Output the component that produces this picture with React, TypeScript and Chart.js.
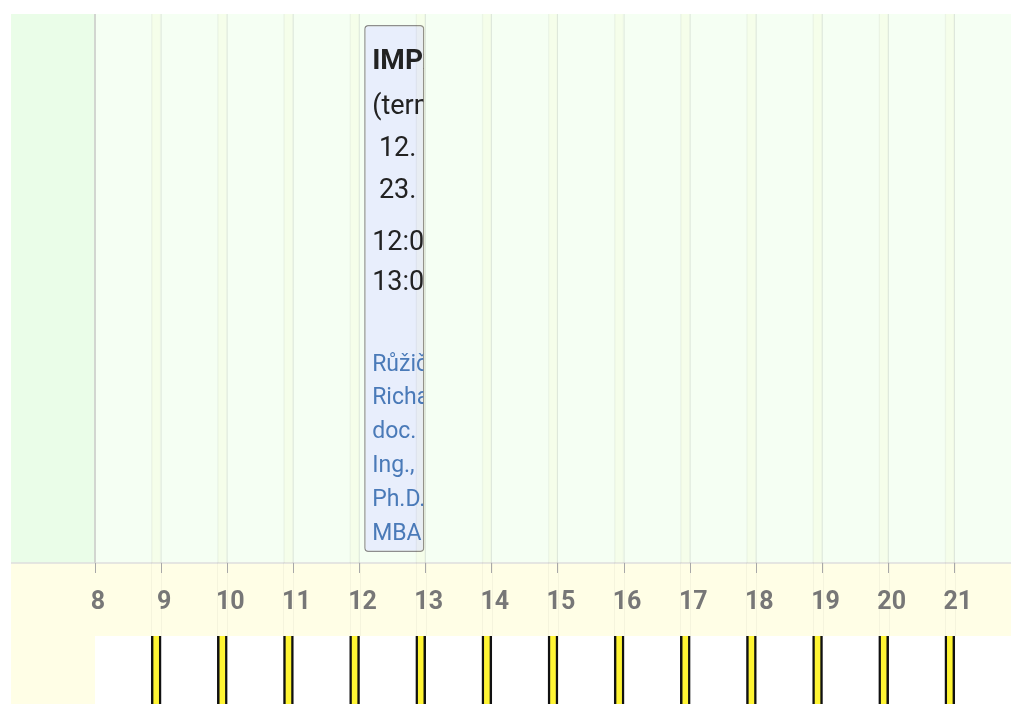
import React, { useEffect, useRef } from "react";
import { Chart, registerables } from "chart.js";

Chart.register(...registerables);

// ---- data ----
const rowLabels = ["Učebna"];
const hourTicks = [8, 9, 10, 11, 12, 13, 14, 15, 16, 17, 18, 19, 20, 21];
const breakStarts = [8.85, 9.85, 10.85, 11.85, 12.85, 13.85, 14.85, 15.85, 16.85, 17.85, 18.85, 19.85, 20.85];
const breakEnds = [9, 10, 11, 12, 13, 14, 15, 16, 17, 18, 19, 20, 21];
const eventStart = 12.07;
const eventEnd = 12.98;
const eventHeaderLines = ["IMPxx", "(termín)", " 12. 02.", " 23. 02.", "12:00", "13:00"];
const eventTeacherLines = ["Růžička", "Richard,", "doc.", "Ing.,", "Ph.D.,", "MBA"];
const axisMin = 8;
const axisMax = 21.85;

const W = 1011;
const TOP_H = 636;
const BOTTOM_H = 68;

const breakData = () => breakStarts.map((s, i) => ({ x: [s, breakEnds[i]], y: rowLabels[0] }));

const topBackground = {
  id: "topBackground",
  beforeDraw(chart: any) {
    const { ctx, chartArea } = chart;
    ctx.save();
    ctx.fillStyle = "#ffffff";
    ctx.fillRect(0, 0, chart.width, chart.height);
    ctx.fillStyle = "#eafde8";
    ctx.fillRect(11, chartArea.top, chartArea.left - 11, chartArea.bottom - chartArea.top);
    ctx.fillStyle = "#f5fff3";
    ctx.fillRect(chartArea.left, chartArea.top, chartArea.right - chartArea.left, chartArea.bottom - chartArea.top);
    ctx.fillStyle = "#fffee6";
    ctx.fillRect(11, chartArea.bottom, chart.width - 11, chart.height - chartArea.bottom);
    ctx.strokeStyle = "#dedede";
    ctx.lineWidth = 1.5;
    ctx.beginPath();
    ctx.moveTo(11, chartArea.bottom);
    ctx.lineTo(chart.width, chartArea.bottom);
    ctx.stroke();
    const xs = chart.scales.x;
    ctx.strokeStyle = "rgba(0,0,0,0.04)";
    ctx.lineWidth = 1;
    breakStarts.forEach((s, i) => {
      [s, breakEnds[i]].forEach((v) => {
        const px = Math.round(xs.getPixelForValue(v)) + 0.5;
        ctx.beginPath();
        ctx.moveTo(px, chartArea.bottom);
        ctx.lineTo(px, chart.height);
        ctx.stroke();
      });
    });
    ctx.restore();
  },
  afterDraw(chart: any) {
    const { ctx, chartArea } = chart;
    ctx.save();
    ctx.strokeStyle = "#d2d6d0";
    ctx.lineWidth = 2;
    ctx.beginPath();
    ctx.moveTo(chartArea.left, chartArea.top);
    ctx.lineTo(chartArea.left, chartArea.bottom);
    ctx.stroke();
    ctx.restore();
  },
  afterDatasetsDraw(chart: any) {
    const { ctx } = chart;
    const meta = chart.getDatasetMeta(1);
    const el = meta.data[0];
    if (!el) return;
    const p = el.getProps(["x", "y", "base", "height"], true);
    const left = Math.min(p.x, p.base);
    const right = Math.max(p.x, p.base);
    const top = p.y - p.height / 2;
    ctx.save();
    ctx.beginPath();
    ctx.rect(left + 1, top + 1, right - left - 2, p.height - 2);
    ctx.clip();
    ctx.textBaseline = "middle";
    ctx.textAlign = "left";
    const headerOffsets = [37, 82, 124, 166, 218, 258];
    eventHeaderLines.forEach((line, i) => {
      ctx.font = i === 0 ? "bold 28px Roboto" : "27px Roboto";
      ctx.fillStyle = "#222222";
      ctx.fillText(line, left + 8, top + headerOffsets[i]);
    });
    const teacherOffsets = [340, 373, 407, 441, 475, 509];
    ctx.font = "23px Roboto";
    ctx.fillStyle = "#4a7ab8";
    eventTeacherLines.forEach((line, i) => {
      ctx.fillText(line, left + 8, top + teacherOffsets[i]);
    });
    ctx.restore();
  },
};

const bottomBackground = {
  id: "bottomBackground",
  beforeDraw(chart: any) {
    const { ctx, chartArea } = chart;
    ctx.save();
    ctx.fillStyle = "#ffffff";
    ctx.fillRect(0, 0, chart.width, chart.height);
    ctx.fillStyle = "#fffee6";
    ctx.fillRect(11, 0, chartArea.left - 11, chart.height);
    ctx.restore();
  },
};

function setTicks(scale: any) {
  scale.ticks = hourTicks.map((v) => ({ value: v }));
}

export default function App() {
  const topRef = useRef<HTMLCanvasElement>(null);
  const bottomRef = useRef<HTMLCanvasElement>(null);

  useEffect(() => {
    const top = new Chart(topRef.current as HTMLCanvasElement, {
      type: "bar",
      data: {
        labels: rowLabels,
        datasets: [
          {
            label: "breaks",
            data: breakData() as any,
            backgroundColor: "rgba(255,235,0,0.035)",
            borderColor: "rgba(0,0,0,0.04)",
            borderWidth: { left: 1, right: 1, top: 0, bottom: 0 } as any,
            borderSkipped: false,
            barPercentage: 1,
            categoryPercentage: 1,
            grouped: false,
          } as any,
          {
            label: "event",
            data: [{ x: [eventStart, eventEnd], y: rowLabels[0] }] as any,
            backgroundColor: "#e8eefc",
            borderColor: "#8e8e8e",
            borderWidth: 1.5,
            borderRadius: 4,
            borderSkipped: false,
            barPercentage: 0.96,
            categoryPercentage: 1,
            grouped: false,
          } as any,
        ],
      },
      options: {
        indexAxis: "y",
        animation: false,
        responsive: false,
        events: [],
        layout: { padding: { top: 14, left: 95, right: 0, bottom: 0 } },
        plugins: { legend: { display: false }, tooltip: { enabled: false } },
        scales: {
          x: {
            type: "linear",
            min: axisMin,
            max: axisMax,
            afterBuildTicks: setTicks,
            afterFit: (s: any) => {
              s.height = 73;
            },
            border: { display: false },
            grid: {
              color: "rgba(0,0,0,0.05)",
              tickColor: "#a8a8a8",
              tickLength: 10,
              lineWidth: 1,
            },
            ticks: {
              color: "#777777",
              font: { family: "Roboto", size: 25, weight: "bold" },
              padding: 15,
              labelOffset: 3,
              maxRotation: 0,
              autoSkip: false,
            },
          },
          y: { display: false },
        },
      },
      plugins: [topBackground],
    } as any);

    const bottom = new Chart(bottomRef.current as HTMLCanvasElement, {
      type: "bar",
      data: {
        labels: rowLabels,
        datasets: [
          {
            label: "breaks",
            data: breakData() as any,
            backgroundColor: "#fff534",
            borderColor: "#111111",
            borderWidth: { left: 2.5, right: 2.5, top: 0, bottom: 0 } as any,
            borderSkipped: false,
            barPercentage: 1,
            categoryPercentage: 1,
            grouped: false,
          } as any,
        ],
      },
      options: {
        indexAxis: "y",
        animation: false,
        responsive: false,
        events: [],
        layout: { padding: { top: 0, left: 95, right: 0, bottom: 0 } },
        plugins: { legend: { display: false }, tooltip: { enabled: false } },
        scales: {
          x: { type: "linear", display: false, min: axisMin, max: axisMax },
          y: { display: false },
        },
      },
      plugins: [bottomBackground],
    } as any);

    return () => {
      top.destroy();
      bottom.destroy();
    };
  }, []);

  return (
    <div style={{ position: "fixed", left: 0, top: 0, width: W, height: TOP_H + BOTTOM_H, overflow: "hidden", background: "#fff" }}>
      <canvas ref={topRef} width={W} height={TOP_H} style={{ display: "block" }} />
      <canvas ref={bottomRef} width={W} height={BOTTOM_H} style={{ display: "block" }} />
    </div>
  );
}
